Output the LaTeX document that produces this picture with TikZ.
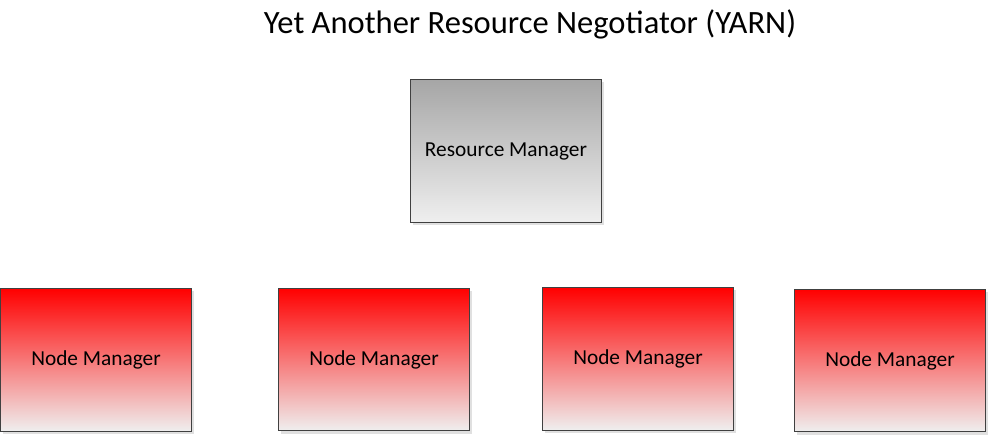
\documentclass[tikz,border=0pt]{standalone}
\usepackage{fontspec}
\setmainfont{Carlito}
\usetikzlibrary{positioning, shadows}

\definecolor{boxline}{HTML}{404040}
\definecolor{rmtop}{HTML}{A6A6A6}
\definecolor{nmtop}{HTML}{FF0000}
\definecolor{fade}{HTML}{EFEFEF}

\tikzset{
	mgr/.style={draw=boxline, line width=0.75pt, inner sep=0pt, outer sep=0pt,
		minimum width=143pt, minimum height=107pt, font=\fontsize{16}{19}\selectfont,
		drop shadow={shadow xshift=2pt, shadow yshift=-2pt, fill=black!12, opacity=1}},
	rm/.style={mgr, top color=rmtop, bottom color=fade},
	nm/.style={mgr, top color=nmtop, bottom color=fade}
}

\begin{document}
\begin{tikzpicture}[x=0.75pt, y=-0.75pt]
		\useasboundingbox (0,0) rectangle (989,435);
		\node (title) at (530,24) {\fontsize{24.4}{29}\selectfont Yet Another Resource Negotiator (YARN)};
		
		\node[rm] (rm) at (506,151) {Resource Manager};
		
		\node[nm] (nm1) at (96,360) {Node Manager};
		\node[nm] (nm2) at (374,359.5) {Node Manager};
		\node[nm] (nm3) at (638,359) {Node Manager};
		\node[nm] (nm4) at (890,360.5) {Node Manager};
	\end{tikzpicture}
\end{document}
